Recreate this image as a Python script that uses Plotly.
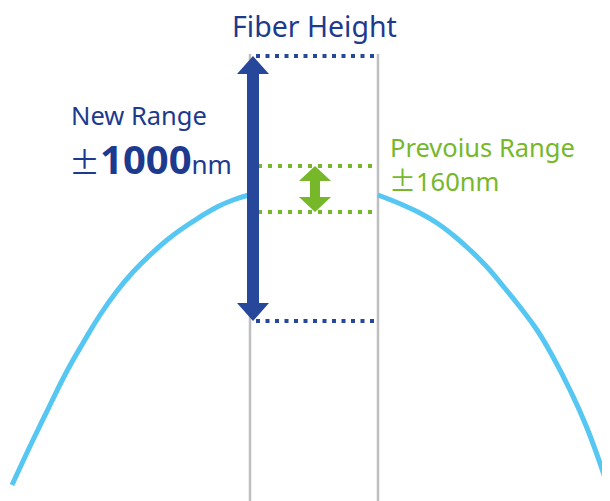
import plotly.graph_objects as go

# --- data (pixel-space diagram units) ---
curve_left_x = [12, 33, 50, 67, 83, 100, 117, 133, 150, 167, 183, 200, 217, 233, 249]
curve_left_y = [485, 440, 405, 371, 343, 315, 291, 272, 255, 240, 228, 217, 207, 200, 195]
curve_right_x = [378, 403, 420, 437, 453, 470, 487, 503, 520, 537, 553, 570, 587, 607]
curve_right_y = [195, 205, 213, 223, 235, 250, 267, 286, 307, 330, 357, 390, 428, 484]

window_x = [250, 378]          # vertical guide lines (fiber window)
window_top = 54
new_range_y = [56, 321]        # +1000 nm / -1000 nm levels
prev_range_y = [166, 212]      # +160 nm / -160 nm levels
new_arrow_x = 253
prev_arrow_x = 315

BLUE = "#26479a"
DARK = "#1d3a8e"
GREEN = "#76b82a"
CYAN = "#55c7f2"
GRAY = "#bfbfbf"
FONT = "Noto Sans"
CJK = "Noto Sans CJK JP"

fig = go.Figure()

# gray vertical guide lines
for gx in window_x:
    fig.add_trace(go.Scatter(x=[gx, gx], y=[window_top, 510], mode="lines",
                             line=dict(color=GRAY, width=2.5), hoverinfo="skip"))

# fiber curve
fig.add_trace(go.Scatter(x=curve_left_x, y=curve_left_y, mode="lines",
                         line=dict(color=CYAN, width=5, shape="spline", smoothing=1.3),
                         hoverinfo="skip"))
fig.add_trace(go.Scatter(x=curve_right_x, y=curve_right_y, mode="lines",
                         line=dict(color=CYAN, width=5, shape="spline", smoothing=1.3),
                         hoverinfo="skip"))

# dotted range lines
for yy in new_range_y:
    fig.add_trace(go.Scatter(x=[new_arrow_x + 3, window_x[1]], y=[yy, yy], mode="lines",
                             line=dict(color=BLUE, width=4, dash="4px,5.5px"), hoverinfo="skip"))
for yy in prev_range_y:
    fig.add_trace(go.Scatter(x=[new_arrow_x + 5, window_x[1]], y=[yy, yy], mode="lines",
                             line=dict(color=GREEN, width=4, dash="4px,6px"), hoverinfo="skip"))


def double_arrow(cx, y0, y1, shaft, head_w, head_l):
    xs = [cx, cx + head_w / 2, cx + shaft / 2, cx + shaft / 2, cx + head_w / 2, cx,
          cx - head_w / 2, cx - shaft / 2, cx - shaft / 2, cx - head_w / 2, cx]
    ys = [y0, y0 + head_l, y0 + head_l, y1 - head_l, y1 - head_l, y1,
          y1 - head_l, y1 - head_l, y0 + head_l, y0 + head_l, y0]
    return xs, ys


ax, ay = double_arrow(new_arrow_x, new_range_y[0], new_range_y[1], 12, 32, 18)
fig.add_trace(go.Scatter(x=ax, y=ay, mode="lines", fill="toself", fillcolor=BLUE,
                         line=dict(color=BLUE, width=0), hoverinfo="skip"))
gx_, gy_ = double_arrow(prev_arrow_x, prev_range_y[0], prev_range_y[1], 10, 32, 15)
fig.add_trace(go.Scatter(x=gx_, y=gy_, mode="lines", fill="toself", fillcolor=GREEN,
                         line=dict(color=GREEN, width=0), hoverinfo="skip"))


# texts
def txt(x, y, s, size, color, anchor="left"):
    fig.add_annotation(x=x, y=y, text=s, showarrow=False, xanchor=anchor, yanchor="middle",
                       font=dict(family=FONT, size=size, color=color))


txt(314, 26, "Fiber Height", 28.5, DARK, "center")
txt(69, 115, "New Range", 25.5, DARK)
txt(67, 158,
    f"<span style='font-family:{CJK};font-size:31px'>±</span>"
    f"<span style='font-size:40px'><b>1000</b></span>"
    f"<span style='font-size:26px'>nm</span>",
    40, DARK)
txt(388, 147, "Prevoius Range", 25.5, GREEN)
txt(387, 179,
    f"<span style='font-family:{CJK};font-size:27px'>±</span>160nm", 25.5, GREEN)

fig.update_layout(width=610, height=501, margin=dict(l=0, r=0, t=0, b=0),
                  paper_bgcolor="white", plot_bgcolor="white", showlegend=False,
                  xaxis=dict(range=[8, 618], visible=False, fixedrange=True),
                  yaxis=dict(range=[509, 8], visible=False, fixedrange=True))

fig.write_html("out.html")
